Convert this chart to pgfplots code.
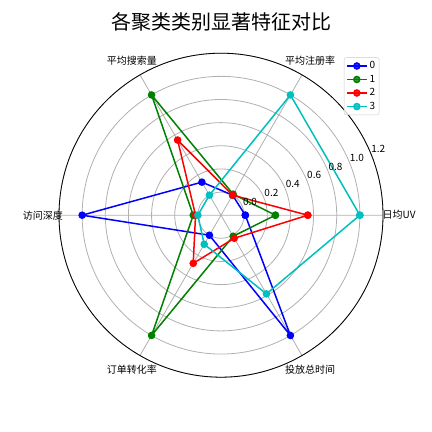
\documentclass[border=0pt]{standalone}
\usepackage{pgfplots}
\pgfplotsset{compat=1.18}
\usepgfplotslibrary{polar}
\usepackage{fontspec}
\newfontfamily\cjk{Noto Sans CJK SC}
\definecolor{mplb}{rgb}{0,0,1}
\definecolor{mplg}{rgb}{0,0.5,0}
\definecolor{mplr}{rgb}{1,0,0}
\definecolor{mplc}{rgb}{0,0.75,0.75}
\definecolor{gridgray}{HTML}{B0B0B0}
\begin{document}
\begin{tikzpicture}
\path[use as bounding box] (0,0) rectangle (432pt,432pt);
\node[font=\cjk\fontsize{20}{24}\selectfont] at (221.7pt,410.5pt) {各聚类类别显著特征对比};
\begin{polaraxis}[
  at={(221pt,216.8pt)}, anchor=center,
  scale only axis, width=324pt, height=324pt,
  xmin=0, xmax=360, ymin=0, ymax=1.4,
  xtick={0,60,120,180,240,300}, xticklabels={},
  ytick={0.2,0.4,0.6,0.8,1.0,1.2,1.4}, yticklabels={},
  grid=major, major grid style={gridgray, line width=0.8pt},
  axis line style={black, line width=0.8pt},
  y axis line style={draw=none},
  major tick length=0pt,
  y filter/.expression={y+0.2},
  clip=false,
  font=\cjk\fontsize{10}{12}\selectfont,
  legend cell align=left,
  legend style={at={(0.9886,0.987)}, anchor=north east, draw=black!20, rounded corners=2pt,
    fill=white, fill opacity=0.8, text opacity=1, font=\cjk\fontsize{10}{11}\selectfont,
    inner sep=2pt, row sep=0.8pt},
  legend image code/.code={\draw[mark repeat=2,mark phase=2] plot coordinates {(0cm,0cm) (0.35cm,0cm) (0.7cm,0cm)};},
  every axis plot/.append style={line width=1.5pt, mark=*, mark size=3pt},
]
\addplot[mplb, mark options={fill=mplb}] coordinates {(0,0.01) (60,0.0) (120,0.13) (180,1.0) (240,0.0) (300,1.0) (360,0.01)};
\addlegendentry{0}
\addplot[mplg, mark options={fill=mplg}] coordinates {(0,0.27) (60,0.01) (120,1.0) (180,0.04) (240,1.0) (300,0.01) (360,0.27)};
\addlegendentry{1}
\addplot[mplr, mark options={fill=mplr}] coordinates {(0,0.55) (60,0.0) (120,0.55) (180,0.02) (240,0.28) (300,0.03) (360,0.55)};
\addlegendentry{2}
\addplot[mplc, mark options={fill=mplc}] coordinates {(0,1.0) (60,1.0) (120,0.0) (180,0.0) (240,0.09) (300,0.585) (360,1.0)};
\addlegendentry{3}
\node at (axis cs:0,1.54) {日均UV};
\node at (axis cs:60,1.54) {平均注册率};
\node at (axis cs:120,1.54) {平均搜索量};
\node at (axis cs:180,1.54) {访问深度};
\node at (axis cs:240,1.54) {订单转化率};
\node at (axis cs:300,1.54) {投放总时间};
\node[anchor=south west, inner sep=0.5pt] at (axis cs:22.5,0.2) {0.0};
\node[anchor=south west, inner sep=0.5pt] at (axis cs:22.5,0.4) {0.2};
\node[anchor=south west, inner sep=0.5pt] at (axis cs:22.5,0.6) {0.4};
\node[anchor=south west, inner sep=0.5pt] at (axis cs:22.5,0.8) {0.6};
\node[anchor=south west, inner sep=0.5pt] at (axis cs:22.5,1.0) {0.8};
\node[anchor=south west, inner sep=0.5pt] at (axis cs:22.5,1.2) {1.0};
\node[anchor=south west, inner sep=0.5pt] at (axis cs:22.5,1.4) {1.2};
\end{polaraxis}
\end{tikzpicture}
\end{document}
